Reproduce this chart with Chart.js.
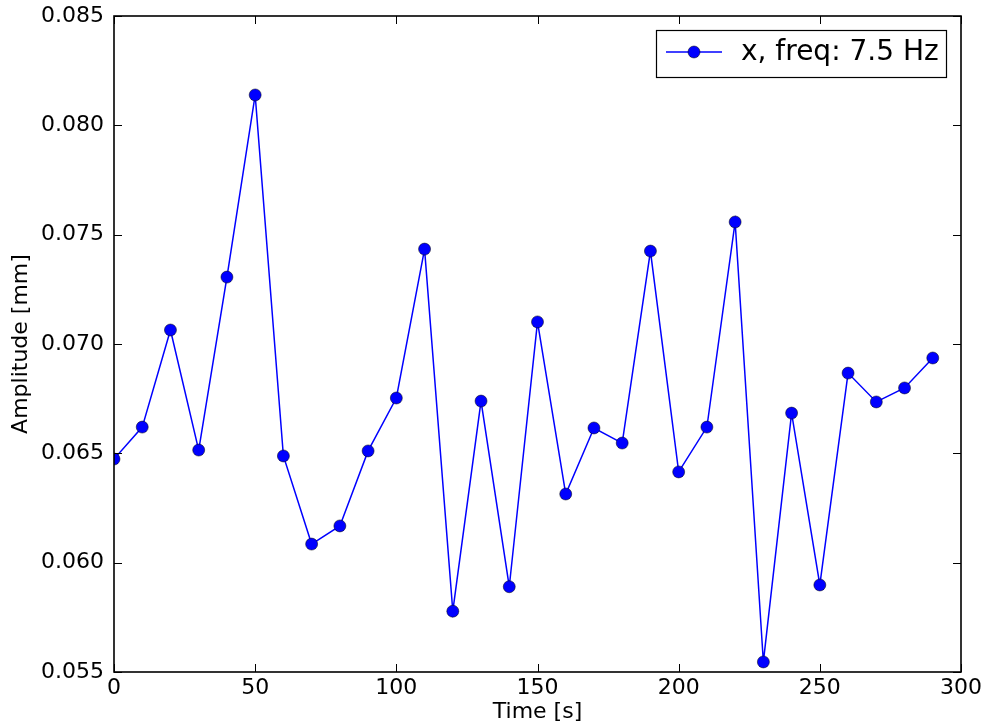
<!DOCTYPE html>
<html>
<head>
<meta charset="utf-8">
<script src="https://cdn.jsdelivr.net/npm/chart.js@4"></script>
<style>
  html, body { margin: 0; padding: 0; background: #fff; }
  #wrap { width: 981px; height: 727px; }
</style>
</head>
<body>
<div id="wrap"><canvas id="chart" width="981" height="727"></canvas></div>
<script>
const times = [0, 10, 20, 30, 40, 50, 60, 70, 80, 90, 100, 110, 120, 130, 140,
  150, 160, 170, 180, 190, 200, 210, 220, 230, 240, 250, 260, 270, 280, 290];
const amplitude = [0.06474, 0.0662, 0.07064, 0.06515, 0.07306, 0.08139, 0.06488, 0.06085,
  0.06168, 0.06511, 0.06753, 0.07434, 0.05778, 0.06739, 0.0589, 0.07101, 0.06314,
  0.06616, 0.06547, 0.07425, 0.06415, 0.0662, 0.07558, 0.05546, 0.06684, 0.05898,
  0.06867, 0.06735, 0.06799, 0.06936];
const seriesLabel = "x, freq: 7.5 Hz";
const xTicks = [0, 50, 100, 150, 200, 250, 300];
const yTicks = [0.055, 0.060, 0.065, 0.070, 0.075, 0.080, 0.085];

const FONT = "'DejaVu Sans', sans-serif";
const ctx = document.getElementById("chart").getContext("2d");

// frame, inward ticks on all four sides, legend box
const frame = {
  id: "frame",
  afterDatasetsDraw(chart) {
    const { ctx, chartArea: a, scales: { x, y } } = chart;
    ctx.save();
    ctx.strokeStyle = "#000";
    ctx.lineWidth = 1;
    const L = 8;
    ctx.beginPath();
    xTicks.forEach(v => {
      const px = Math.round(x.getPixelForValue(v)) + 0.5;
      ctx.moveTo(px, a.bottom); ctx.lineTo(px, a.bottom - L);
      ctx.moveTo(px, a.top); ctx.lineTo(px, a.top + L);
    });
    yTicks.forEach(v => {
      const py = Math.round(y.getPixelForValue(v)) + 0.5;
      ctx.moveTo(a.left, py); ctx.lineTo(a.left + L, py);
      ctx.moveTo(a.right, py); ctx.lineTo(a.right - L, py);
    });
    ctx.stroke();
    ctx.lineWidth = 1.6;
    ctx.strokeRect(a.left, a.top, a.right - a.left, a.bottom - a.top);

    // legend
    const bx = a.right - 305, by = a.top + 14, bw = 290, bh = 47;
    ctx.fillStyle = "#fff";
    ctx.fillRect(bx, by, bw, bh);
    ctx.lineWidth = 1.2;
    ctx.strokeRect(bx + 0.5, by + 0.5, bw, bh);
    const cy = by + 22;
    ctx.strokeStyle = "#0000ff";
    ctx.lineWidth = 1.5;
    ctx.beginPath();
    ctx.moveTo(bx + 10, cy); ctx.lineTo(bx + 66, cy);
    ctx.stroke();
    ctx.beginPath();
    ctx.arc(bx + 38, cy, 6, 0, Math.PI * 2);
    ctx.fillStyle = "#0000ff";
    ctx.fill();
    ctx.strokeStyle = "#000";
    ctx.lineWidth = 0.5;
    ctx.stroke();
    ctx.fillStyle = "#000";
    ctx.font = "28px " + FONT;
    ctx.textBaseline = "middle";
    ctx.textAlign = "left";
    ctx.fillText(seriesLabel, bx + 85, cy + 1);
    ctx.restore();
  }
};

new Chart(ctx, {
  type: "line",
  data: {
    datasets: [{
      label: seriesLabel,
      data: times.map((t, i) => ({ x: t, y: amplitude[i] })),
      borderColor: "#0000ff",
      borderWidth: 1.5,
      backgroundColor: "#0000ff",
      pointRadius: 6,
      pointBackgroundColor: "#0000ff",
      pointBorderColor: "#000",
      pointBorderWidth: 0.5,
      tension: 0,
      clip: 0
    }]
  },
  options: {
    responsive: false,
    animation: false,
    devicePixelRatio: 1,
    layout: { padding: { left: 0, top: 16, right: 20, bottom: 0 } },
    plugins: { legend: { display: false }, tooltip: { enabled: false } },
    scales: {
      x: {
        type: "linear",
        min: 0, max: 300,
        afterBuildTicks: s => { s.ticks = xTicks.map(v => ({ value: v })); },
        afterFit: s => { s.height = 55; s.paddingLeft = 0; s.paddingRight = 0; },
        grid: { display: false, drawTicks: false },
        border: { display: false },
        ticks: { color: "#000", padding: 3, font: { family: FONT, size: 22 }, maxRotation: 0 },
        title: { display: true, text: "Time [s]", color: "#000",
                 font: { family: FONT, size: 22 }, padding: { top: 0, bottom: 2 } }
      },
      y: {
        min: 0.055, max: 0.085,
        afterBuildTicks: s => { s.ticks = yTicks.map(v => ({ value: v })); },
        afterFit: s => { s.width = 114; s.paddingTop = 0; s.paddingBottom = 0; },
        grid: { display: false, drawTicks: false },
        border: { display: false },
        ticks: { color: "#000", padding: 10, font: { family: FONT, size: 22 },
                 callback: v => v.toFixed(3) },
        title: { display: true, text: "Amplitude [mm]", color: "#000",
                 font: { family: FONT, size: 22 }, padding: { top: 8, bottom: 0 } }
      }
    }
  },
  plugins: [frame]
});
</script>
</body>
</html>
